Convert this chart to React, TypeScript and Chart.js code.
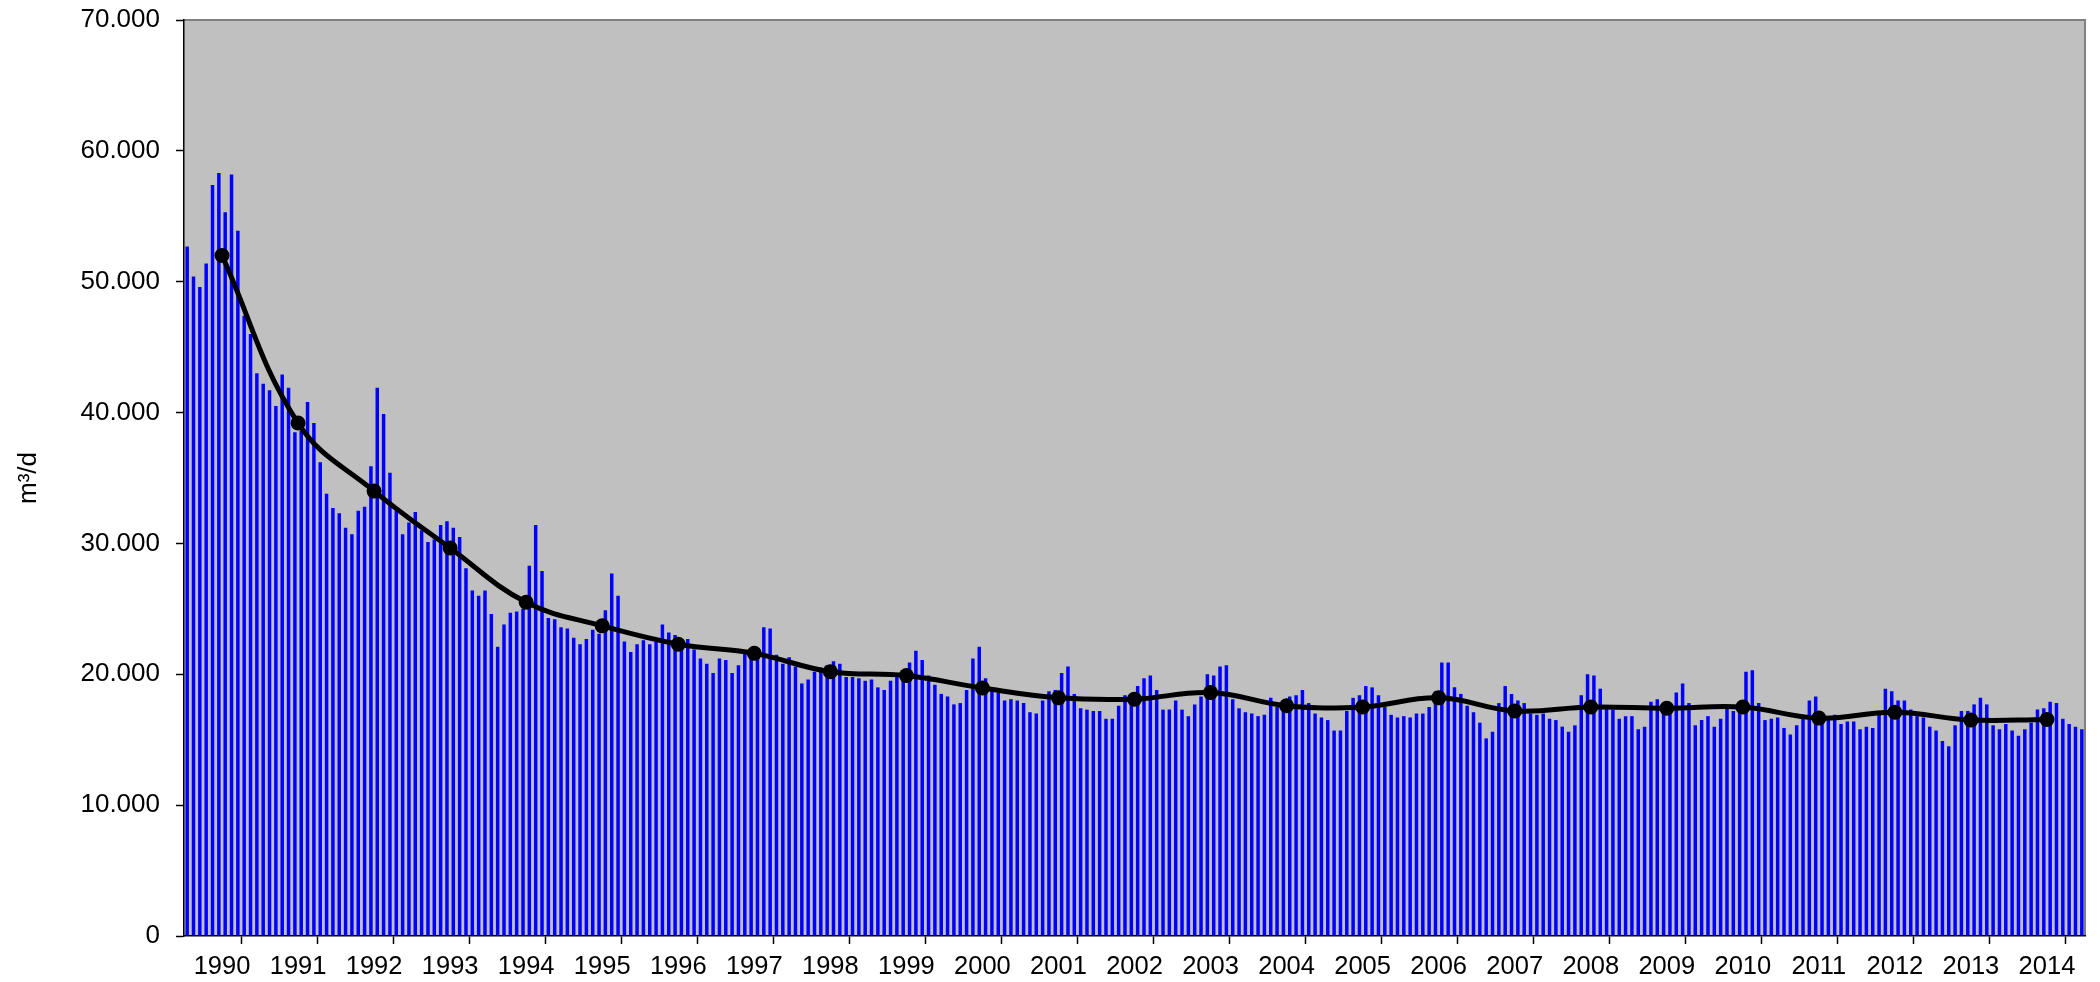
import React, { useEffect, useRef } from "react";
import { Chart, registerables } from "chart.js";

Chart.register(...registerables);

// Year labels
const years = [
  "1990", "1991", "1992", "1993", "1994", "1995", "1996", "1997", "1998", "1999",
  "2000", "2001", "2002", "2003", "2004", "2005", "2006", "2007", "2008", "2009",
  "2010", "2011", "2012", "2013", "2014",
];

// Monthly values (m³/d), Jan..Dec
const m1990 = [52700, 50400, 49600, 51400, 57400, 58300, 55300, 58200, 53900, 47400, 46000, 43000];
const m1991 = [42200, 41700, 40500, 42900, 41900, 38500, 38600, 40800, 39200, 36200, 33800, 32700];
const m1992 = [32300, 31200, 30700, 32500, 32800, 35900, 41900, 39900, 35400, 32500, 30700, 31600];
const m1993 = [32400, 31000, 30100, 30300, 31400, 31700, 31200, 30500, 28100, 26400, 26000, 26400];
const m1994 = [24600, 22100, 23800, 24700, 24800, 25000, 28300, 31400, 27900, 24300, 24200, 23600];
const m1995 = [23500, 22800, 22300, 22700, 23400, 23100, 24900, 27700, 26000, 22500, 21700, 22300];
const m1996 = [22600, 22300, 22500, 23800, 23200, 23000, 22600, 22700, 21900, 21200, 20800, 20100];
const m1997 = [21200, 21100, 20100, 20700, 21600, 21600, 21400, 23600, 23500, 21500, 20800, 21300];
const m1998 = [20600, 19300, 19600, 20200, 20500, 20700, 21000, 20800, 19800, 19800, 19700, 19500];
const m1999 = [19600, 19000, 18800, 19500, 19800, 19700, 20900, 21800, 21100, 19900, 19200, 18500];
const m2000 = [18300, 17700, 17800, 18800, 21200, 22100, 19700, 18800, 18600, 18000, 18100, 18000];
const m2001 = [17800, 17100, 17000, 18000, 18700, 18800, 20100, 20600, 18500, 17400, 17300, 17200];
const m2002 = [17200, 16600, 16600, 17600, 18400, 18500, 19100, 19700, 19900, 18800, 17300, 17300];
const m2003 = [18000, 17300, 16800, 17700, 18300, 20000, 19900, 20600, 20700, 18100, 17400, 17100];
const m2004 = [17000, 16800, 16900, 18200, 17500, 17800, 18300, 18400, 18800, 17800, 17000, 16700];
const m2005 = [16500, 15700, 15700, 17200, 18200, 18400, 19100, 19000, 18400, 17500, 16900, 16700];
const m2006 = [16800, 16700, 17000, 17000, 17500, 18700, 20900, 20900, 19000, 18500, 17600, 17100];
const m2007 = [16300, 15100, 15600, 17800, 19100, 18500, 18000, 17800, 17000, 16900, 17000, 16600];
const m2008 = [16500, 16000, 15600, 16100, 18400, 20000, 19900, 18900, 17400, 17300, 16600, 16800];
const m2009 = [16800, 15800, 16000, 17900, 18100, 17500, 17400, 18600, 19300, 17800, 16100, 16500];
const m2010 = [16800, 16000, 16600, 17400, 17200, 17400, 20200, 20300, 17800, 16500, 16600, 16700];
const m2011 = [15900, 15400, 16100, 16600, 18000, 18300, 16900, 16700, 16900, 16200, 16400, 16400];
const m2012 = [15800, 16000, 15900, 16900, 18900, 18700, 18000, 18000, 17300, 16800, 16700, 16000];
const m2013 = [15700, 14900, 14500, 16100, 17200, 17200, 17700, 18200, 17700, 16100, 15800, 16200];
const m2014 = [15700, 15300, 15800, 16300, 17300, 17400, 17900, 17800, 16600, 16200, 16000, 15800];

// Annual mean values (m³/d)
const annual = [
  52000, 39200, 34000, 29650, 25500, 23700, 22300, 21600, 20200, 19900,
  18950, 18200, 18100, 18600, 17600, 17500, 18200, 17200, 17500, 17400,
  17500, 16650, 17100, 16500, 16550,
];

// Y tick values
const yTicks = [0, 10000, 20000, 30000, 40000, 50000, 60000, 70000];

const monthly = [
  m1990, m1991, m1992, m1993, m1994, m1995, m1996, m1997, m1998, m1999,
  m2000, m2001, m2002, m2003, m2004, m2005, m2006, m2007, m2008, m2009,
  m2010, m2011, m2012, m2013, m2014,
];

const fmt = (v: number) =>
  Math.round(v).toString().replace(/\B(?=(\d{3})+(?!\d))/g, ".");

const FONT = "'Liberation Sans', Arial, sans-serif";

const plotBg = {
  id: "plotBg",
  beforeDraw(chart: any) {
    const { ctx, chartArea } = chart;
    const { left, top, right, bottom } = chartArea;
    ctx.save();
    ctx.fillStyle = "#ffffff";
    ctx.fillRect(0, 0, chart.width, chart.height);
    ctx.fillStyle = "#C0C0C0";
    ctx.fillRect(left, top, right - left, bottom - top);
    ctx.strokeStyle = "#808080";
    ctx.lineWidth = 2;
    ctx.beginPath();
    ctx.moveTo(left, top);
    ctx.lineTo(right, top);
    ctx.lineTo(right, bottom);
    ctx.stroke();
    ctx.restore();
  },
};

export default function App() {
  const ref = useRef<HTMLCanvasElement | null>(null);

  useEffect(() => {
    if (!ref.current) return;
    const barData = monthly.flat().map((v, i) => ({ x: i + 0.5, y: v }));
    const lineData = annual.map((v, k) => ({ x: k * 12 + 6, y: v }));
    const total = years.length * 12;

    const chart = new Chart(ref.current, {
      type: "bar",
      data: {
        datasets: [
          {
            type: "line",
            label: "Jahresmittel",
            data: lineData,
            borderColor: "#000000",
            backgroundColor: "#000000",
            borderWidth: 5,
            pointRadius: 7.5,
            pointBackgroundColor: "#000000",
            pointBorderColor: "#000000",
            pointBorderWidth: 0,
            tension: 0.4,
            order: 0,
          } as any,
          {
            type: "bar",
            label: "Monatswerte",
            data: barData,
            backgroundColor: "#0000FF",
            borderWidth: 0,
            barPercentage: 0.55,
            categoryPercentage: 1,
            order: 1,
          } as any,
        ],
      },
      options: {
        animation: false,
        responsive: false,
        maintainAspectRatio: false,
        layout: { padding: { left: 0, right: 15, top: 20, bottom: 0 } },
        plugins: {
          legend: { display: false },
          tooltip: { enabled: false },
        },
        scales: {
          x: {
            type: "linear",
            min: 0,
            max: total,
            offset: false,
            afterBuildTicks: (scale: any) => {
              const t: any[] = [];
              for (let v = 0; v <= total; v += 6) t.push({ value: v });
              scale.ticks = t;
            },
            afterFit: (scale: any) => {
              scale.height = 46;
              scale.paddingLeft = 0;
              scale.paddingRight = 0;
            },
            ticks: {
              autoSkip: false,
              maxRotation: 0,
              minRotation: 0,
              padding: 8,
              color: "#000",
              font: { family: FONT, size: 25.5 },
              callback: (value: any) => {
                const v = Number(value);
                return v % 12 === 6 ? years[(v - 6) / 12] : "";
              },
            },
            grid: {
              drawOnChartArea: false,
              drawTicks: true,
              tickLength: 8,
              tickWidth: 1.5,
              tickColor: (ctx: any) =>
                ctx.tick && ctx.tick.value % 12 === 0 ? "#000" : "rgba(0,0,0,0)",
            },
            border: { display: true, color: "#000", width: 1.5 },
          },
          y: {
            type: "linear",
            min: 0,
            max: 70000,
            afterBuildTicks: (scale: any) => {
              scale.ticks = yTicks.map((v) => ({ value: v }));
            },
            afterFit: (scale: any) => {
              scale.width = 184;
              scale.paddingTop = 0;
              scale.paddingBottom = 0;
            },
            ticks: {
              padding: 16,
              color: "#000",
              font: { family: FONT, size: 26 },
              callback: (value: any) => fmt(Number(value)),
            },
            grid: {
              drawOnChartArea: false,
              drawTicks: true,
              tickLength: 8,
              tickWidth: 1.5,
              tickColor: "#000",
            },
            border: { display: true, color: "#000", width: 1.5 },
            title: {
              display: true,
              text: "m³/d",
              color: "#000",
              font: { family: FONT, size: 26 },
              padding: { top: 13, bottom: 0 },
            },
          },
        },
      },
      plugins: [plotBg],
    });

    return () => chart.destroy();
  }, []);

  return (
    <canvas
      ref={ref}
      width={2100}
      height={982}
      style={{ position: "fixed", left: 0, top: 0, display: "block" }}
    />
  );
}
